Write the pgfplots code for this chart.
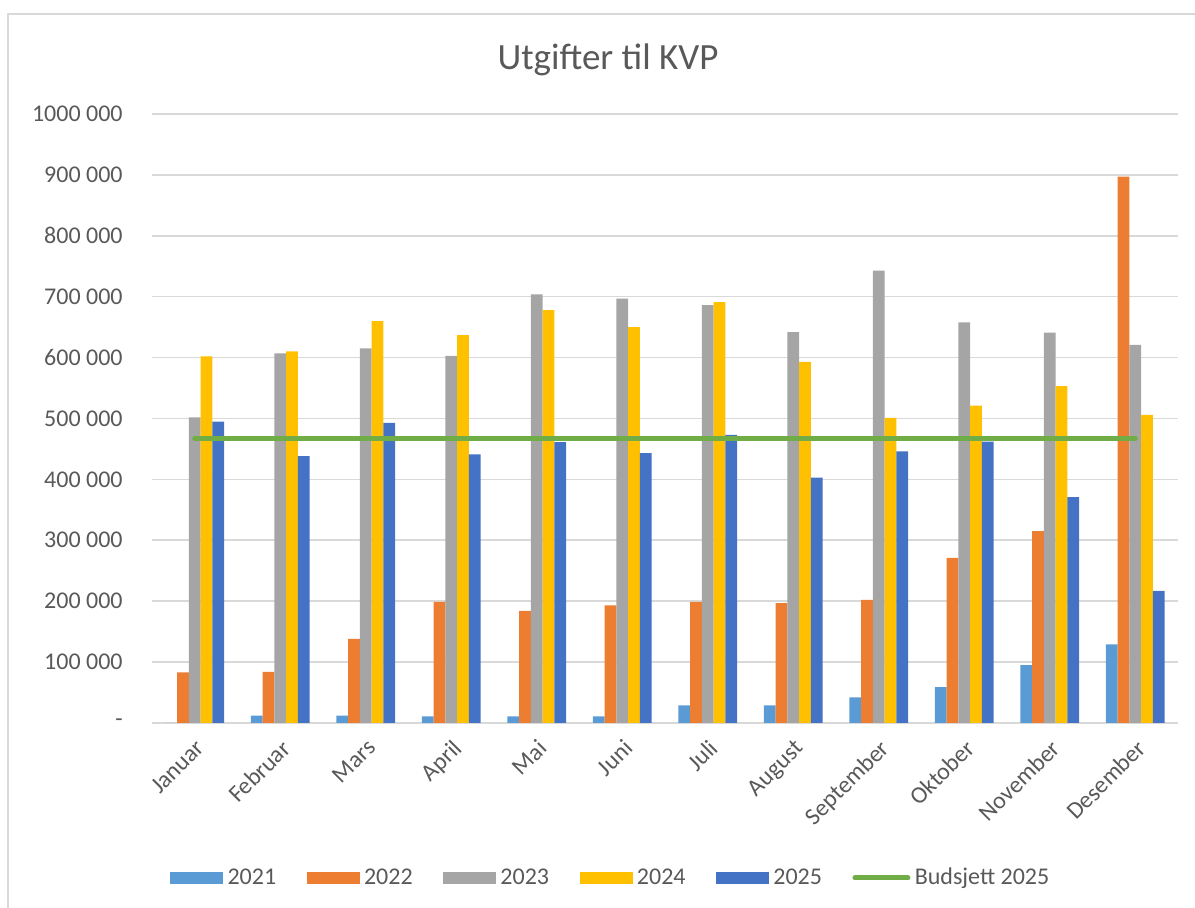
\documentclass[border=0pt]{standalone}
\usepackage{pgfplots}
\pgfplotsset{compat=1.18}
\usepackage{fontspec}
\setmainfont{Carlito}

\definecolor{c21}{RGB}{91,155,213}
\definecolor{c22}{RGB}{237,125,49}
\definecolor{c23}{RGB}{165,165,165}
\definecolor{c24}{RGB}{255,192,0}
\definecolor{c25}{RGB}{68,114,196}
\definecolor{cbud}{RGB}{112,173,71}
\definecolor{txt}{RGB}{89,89,89}
\definecolor{grd}{RGB}{217,217,217}

% monthly costs, one column per year
\pgfplotstableread{
m   y21     y22     y23     y24     y25     bud
0   0       83000   502000  602000  495000  466667
1   12000   84000   607000  610000  438000  466667
2   12000   138000  615000  660000  493000  466667
3   11000   199000  603000  637000  441000  466667
4   11000   184000  704000  678000  461000  466667
5   11000   193000  697000  650000  443000  466667
6   29000   199000  686000  691000  473000  466667
7   29000   197000  642000  593000  403000  466667
8   42000   202000  743000  501000  446000  466667
9   59000   271000  658000  521000  462000  466667
10  95000   315000  641000  553000  371000  466667
11  129000  897000  621000  506000  217000  466667
}\kvp

\pgfplotsset{
  barleg/.style={legend image code/.code={\fill[##1] (0pt,-3pt) rectangle (26.5pt,3pt);}},
  lineleg/.style={legend image code/.code={\draw[##1] (0pt,0pt) -- (26.5pt,0pt);}},
}

\begin{document}
\begin{tikzpicture}
\useasboundingbox (-76pt,-92.5pt) rectangle (521.5pt,361.5pt);
\draw[grd, line width=1pt] (-72pt,-140pt) rectangle (640pt,354.5pt);
\begin{axis}[
  at={(0,0)}, anchor=south west,
  scale only axis, width=513pt, height=304.5pt,
  xmin=-0.5, xmax=11.5, ymin=0, ymax=1000000,
  scaled y ticks=false,
  axis line style={draw=none},
  major tick length=0pt,
  ymajorgrids, grid style={grd, line width=0.8pt},
  ytick={0,100000,...,1000000},
  yticklabels={{-\hspace{7pt}},100 000,200 000,300 000,400 000,500 000,600 000,700 000,800 000,900 000,1000 000},
  yticklabel style={font=\fontsize{12}{14}\selectfont, text=txt, anchor=east, inner sep=0pt, xshift=-14.5pt},
  xtick={0,...,11},
  xticklabels={Januar,Februar,Mars,April,Mai,Juni,Juli,August,September,Oktober,November,Desember},
  xticklabel style={font=\fontsize{12}{14}\selectfont, text=txt, rotate=45, anchor=north east, inner sep=1pt},
  xticklabel shift=6pt,
  legend columns=6,
  legend style={at={(0.4483,-0.2545)}, anchor=center, draw=none, fill=none,
    font=\fontsize{12}{14}\selectfont, text=txt,
    /tikz/every even column/.append style={column sep=13pt},
    nodes={inner xsep=2.2pt, inner ysep=1.5pt}},
]
\addplot[ybar, bar width=0.137, bar shift=-0.274, fill=c21, draw=none, barleg] table[x=m, y=y21] {\kvp};
\addplot[ybar, bar width=0.137, bar shift=-0.137, fill=c22, draw=none, barleg] table[x=m, y=y22] {\kvp};
\addplot[ybar, bar width=0.137, bar shift=0, fill=c23, draw=none, barleg] table[x=m, y=y23] {\kvp};
\addplot[ybar, bar width=0.137, bar shift=0.137, fill=c24, draw=none, barleg] table[x=m, y=y24] {\kvp};
\addplot[ybar, bar width=0.137, bar shift=0.274, fill=c25, draw=none, barleg] table[x=m, y=y25] {\kvp};
\addplot[cbud, line width=2.5pt, line cap=round, mark=none, lineleg] table[x=m, y=bud] {\kvp};
\legend{2021,2022,2023,2024,2025,Budsjett 2025}
\end{axis}
\node[anchor=base, font=\fontsize{18.5}{22}\selectfont, text=txt] at (228pt,326.5pt) {Utgifter til KVP};
\end{tikzpicture}
\end{document}
